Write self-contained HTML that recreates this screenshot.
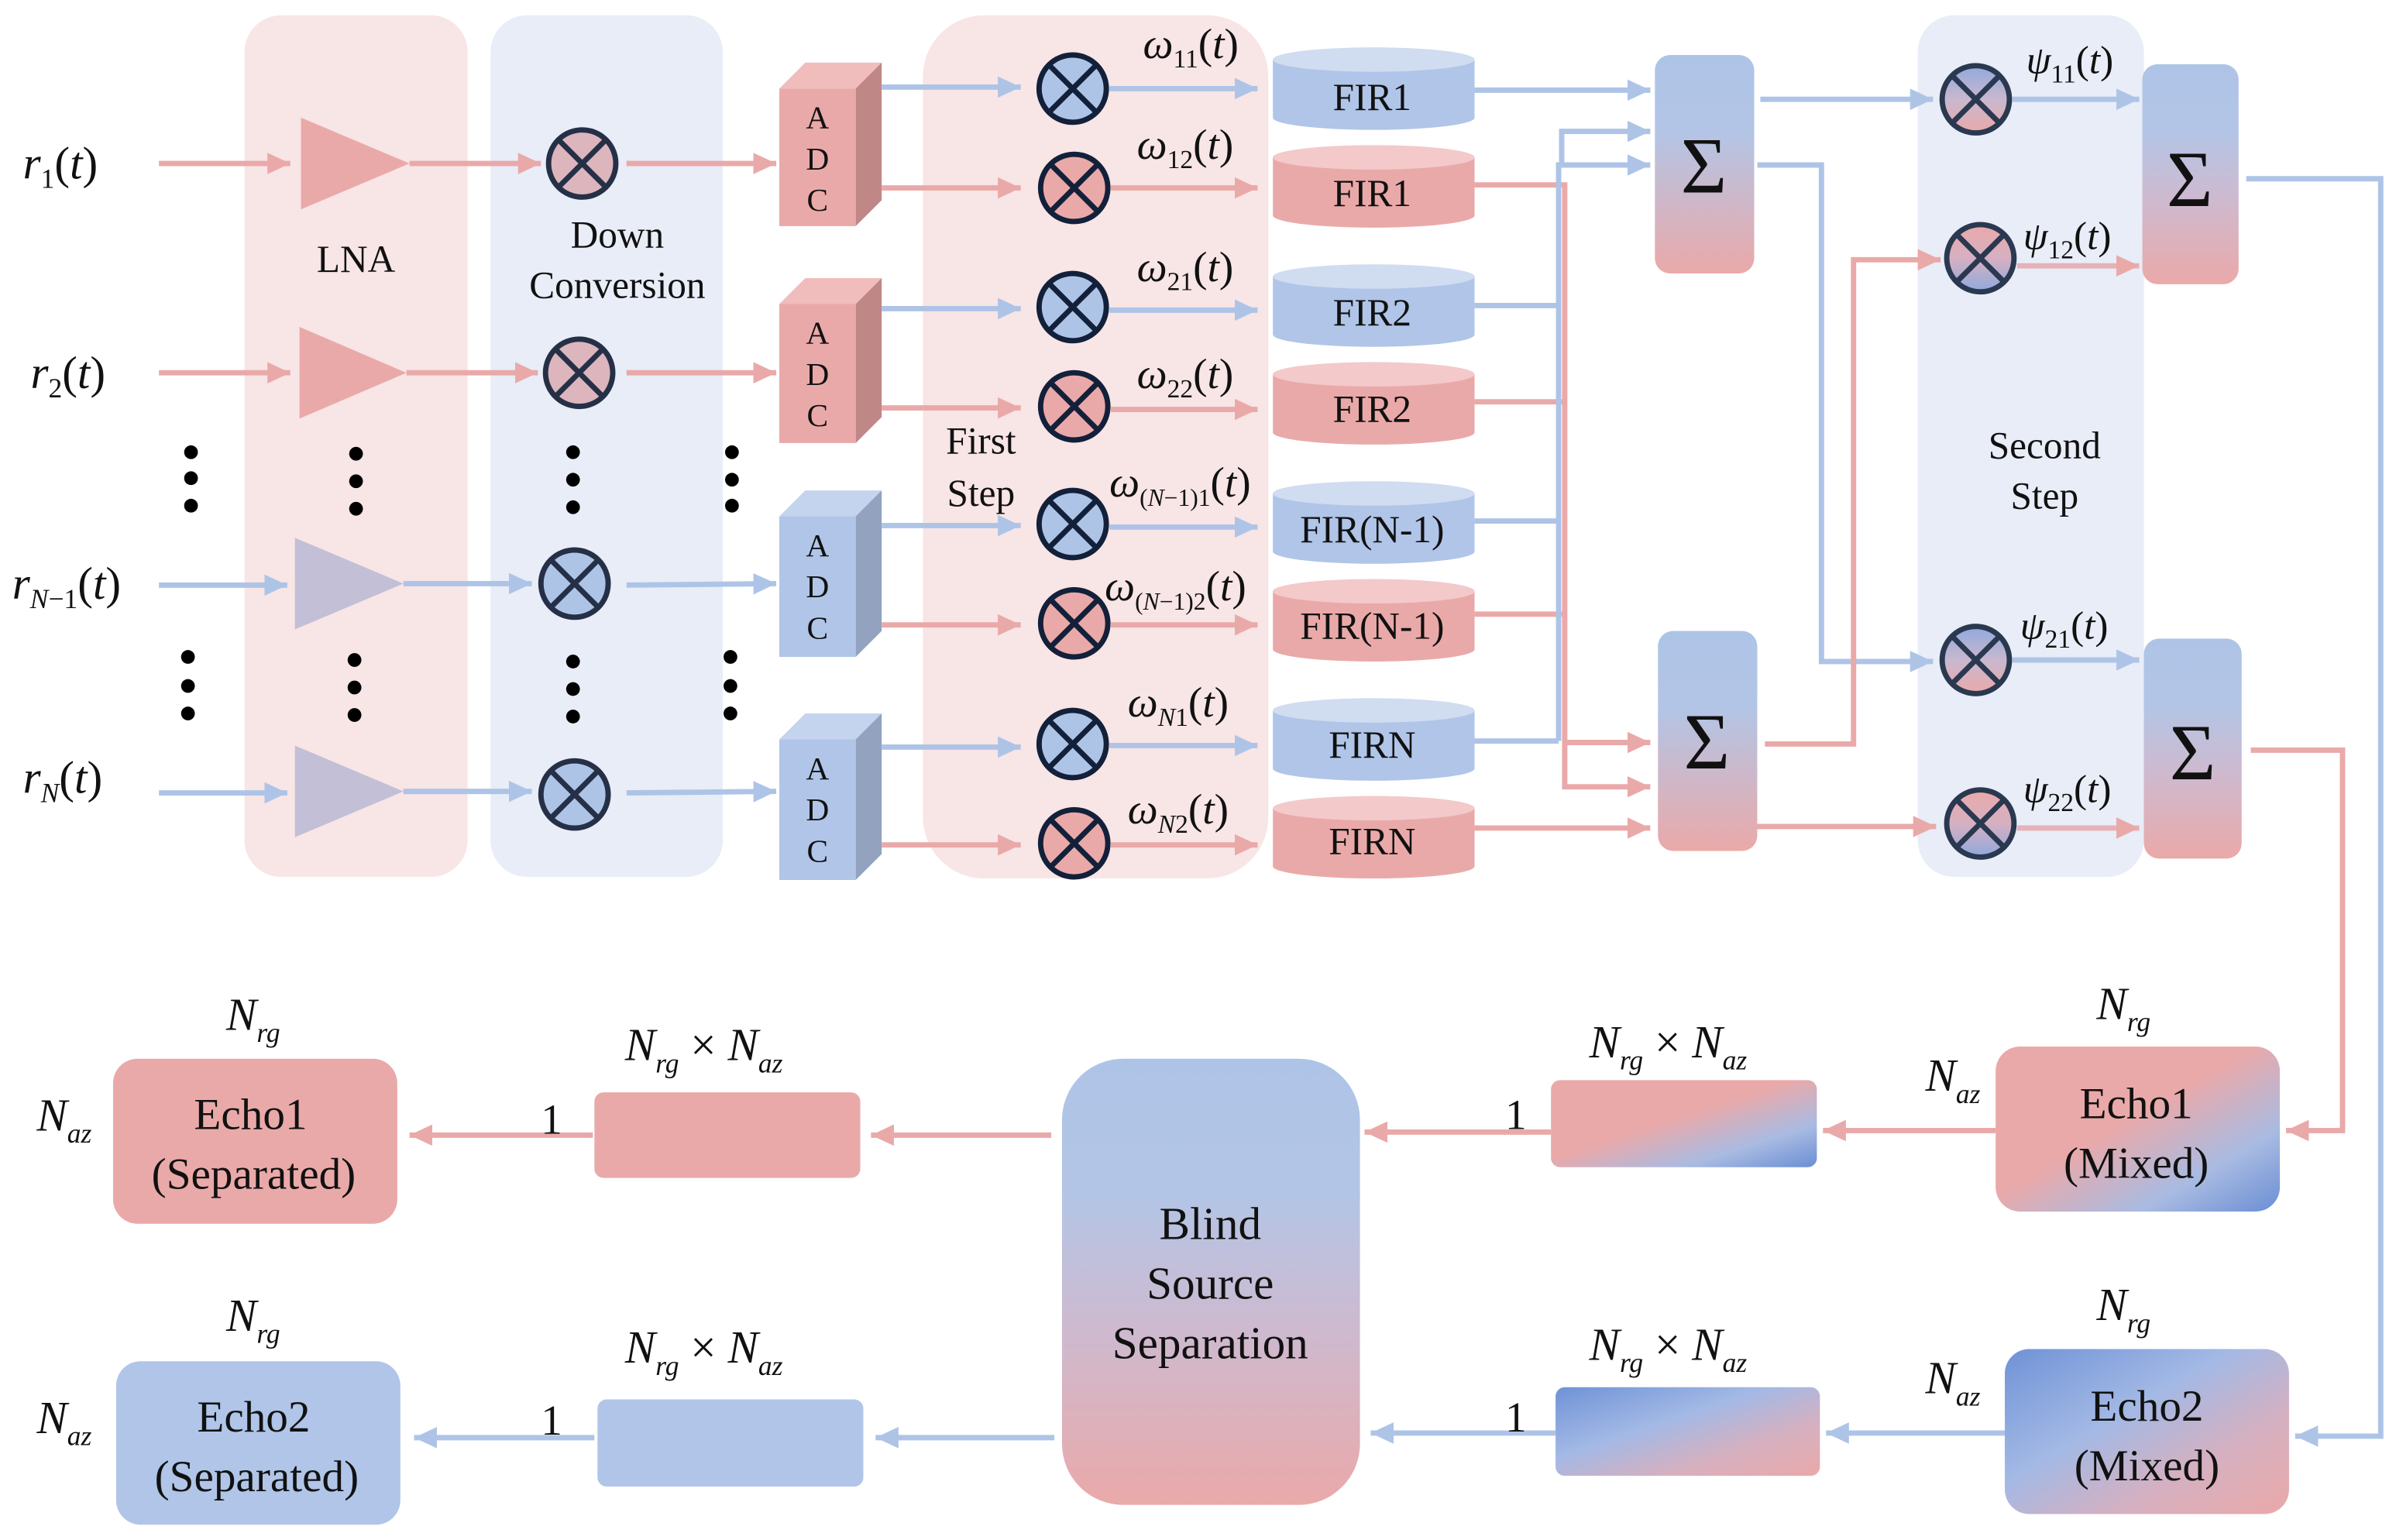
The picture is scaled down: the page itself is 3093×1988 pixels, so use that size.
<!DOCTYPE html>
<html><head><meta charset="utf-8"><style>
html,body{margin:0;padding:0;background:#fff;font-family:"Liberation Serif","DejaVu Serif",serif;}
svg{display:block;}
svg text{font-family:"Liberation Serif","DejaVu Serif",serif;fill:#111;}
.it{font-style:italic;}
</style></head><body>
<svg width="3093" height="1988" viewBox="0 0 1568 1008" preserveAspectRatio="none" xmlns="http://www.w3.org/2000/svg" font-family="Liberation Serif, DejaVu Serif, serif">
<defs>
<marker id="mb" markerUnits="userSpaceOnUse" markerWidth="16" markerHeight="14" refX="15" refY="7" orient="auto"><path d="M0,0 L15,7 L0,14 z" fill="#aec4e7"/></marker>
<marker id="mp" markerUnits="userSpaceOnUse" markerWidth="16" markerHeight="14" refX="15" refY="7" orient="auto"><path d="M0,0 L15,7 L0,14 z" fill="#eaa9a9"/></marker>
<linearGradient id="gBP" x1="0" y1="0" x2="0" y2="1"><stop offset="0" stop-color="#aec4e7"/><stop offset="0.35" stop-color="#b3c5e6"/><stop offset="1" stop-color="#eaa9a9"/></linearGradient>
<linearGradient id="gBP2" x1="0" y1="0" x2="0" y2="1"><stop offset="0" stop-color="#aec4e7"/><stop offset="0.3" stop-color="#b3c5e6"/><stop offset="0.6" stop-color="#cdbad0"/><stop offset="1" stop-color="#eaa9a9"/></linearGradient>
<linearGradient id="cBP" x1="0" y1="0" x2="0" y2="1"><stop offset="0" stop-color="#8fa9dd"/><stop offset="0.5" stop-color="#c9b8cf"/><stop offset="1" stop-color="#eaa9a9"/></linearGradient>
<linearGradient id="cPB" x1="0" y1="0" x2="0" y2="1"><stop offset="0" stop-color="#eaa9a9"/><stop offset="0.5" stop-color="#d6b0c2"/><stop offset="1" stop-color="#8fa9dd"/></linearGradient>
<linearGradient id="e1" x1="0" y1="0" x2="1" y2="1"><stop offset="0" stop-color="#eaa9a9"/><stop offset="0.45" stop-color="#eaa9a9"/><stop offset="0.75" stop-color="#a9bbe2"/><stop offset="1" stop-color="#6a8ed4"/></linearGradient>
<linearGradient id="e2" x1="0" y1="0" x2="1" y2="1"><stop offset="0" stop-color="#6f92d6"/><stop offset="0.4" stop-color="#a3b9e5"/><stop offset="0.7" stop-color="#d6b0c0"/><stop offset="1" stop-color="#eaa9a9"/></linearGradient>
</defs>

<rect x="160" y="10" width="146" height="564" rx="24" fill="#f8e5e6"/>
<rect x="321" y="10" width="152" height="564" rx="24" fill="#e8edf7"/>
<rect x="604" y="10" width="226" height="565" rx="40" fill="#f8e5e6"/>
<rect x="1255" y="10" width="148" height="564" rx="24" fill="#e8edf7"/>

<text class="it" x="15" y="117" font-size="30">r<tspan font-size="18" dy="6" font-style="normal">1</tspan><tspan dy="-6" font-style="normal">(</tspan>t<tspan font-style="normal">)</tspan></text>
<text class="it" x="20" y="254" font-size="30">r<tspan font-size="18" dy="6" font-style="normal">2</tspan><tspan dy="-6" font-style="normal">(</tspan>t<tspan font-style="normal">)</tspan></text>
<text class="it" x="8" y="392" font-size="30">r<tspan font-size="18" dy="6">N</tspan><tspan font-size="18" font-style="normal">−1</tspan><tspan dy="-6" font-style="normal">(</tspan>t<tspan font-style="normal">)</tspan></text>
<text class="it" x="15" y="519" font-size="30">r<tspan font-size="18" dy="6">N</tspan><tspan dy="-6" font-style="normal">(</tspan>t<tspan font-style="normal">)</tspan></text>

<g stroke-width="3.5" fill="none">
<line x1="104" y1="107" x2="190" y2="107" stroke="#eaa9a9" marker-end="url(#mp)"/>
<line x1="104" y1="244" x2="190" y2="244" stroke="#eaa9a9" marker-end="url(#mp)"/>
<line x1="104" y1="383" x2="188" y2="383" stroke="#aec4e7" marker-end="url(#mb)"/>
<line x1="104" y1="519" x2="188" y2="519" stroke="#aec4e7" marker-end="url(#mb)"/>
<line x1="268" y1="107" x2="354" y2="107" stroke="#eaa9a9" marker-end="url(#mp)"/>
<line x1="266" y1="244" x2="352" y2="244" stroke="#eaa9a9" marker-end="url(#mp)"/>
<line x1="264" y1="382" x2="348" y2="382" stroke="#aec4e7" marker-end="url(#mb)"/>
<line x1="264" y1="518" x2="348" y2="518" stroke="#aec4e7" marker-end="url(#mb)"/>
<line x1="410" y1="107" x2="508" y2="107" stroke="#eaa9a9" marker-end="url(#mp)"/>
<line x1="410" y1="244" x2="508" y2="244" stroke="#eaa9a9" marker-end="url(#mp)"/>
<line x1="410" y1="383" x2="508" y2="382" stroke="#aec4e7" marker-end="url(#mb)"/>
<line x1="410" y1="519" x2="508" y2="518" stroke="#aec4e7" marker-end="url(#mb)"/>
</g>

<polygon points="197,77 268,107 197,137" fill="#eaa9a9"/>
<polygon points="196,214 266,244 196,274" fill="#eaa9a9"/>
<polygon points="193,352 264,382 193,412" fill="#c3bfd7"/>
<polygon points="193,488 264,518 193,548" fill="#c3bfd7"/>
<text x="233" y="178" font-size="25" text-anchor="middle">LNA</text>
<text x="404" y="162" font-size="25" text-anchor="middle">Down</text>
<text x="404" y="195" font-size="25" text-anchor="middle">Conversion</text>

<g stroke="#253047" stroke-width="3.5">
<circle cx="381" cy="107" r="22" fill="#dcb5bd"/><path d="M365.5,91.5 L396.5,122.5 M396.5,91.5 L365.5,122.5"/>
<circle cx="379" cy="244" r="22" fill="#dcb5bd"/><path d="M363.5,228.5 L394.5,259.5 M394.5,228.5 L363.5,259.5"/>
<circle cx="376" cy="382" r="22" fill="#aec4e7"/><path d="M360.5,366.5 L391.5,397.5 M391.5,366.5 L360.5,397.5"/>
<circle cx="376" cy="520" r="22" fill="#aec4e7"/><path d="M360.5,504.5 L391.5,535.5 M391.5,504.5 L360.5,535.5"/>
</g>

<g fill="#000">
<circle cx="125" cy="296" r="4.5"/><circle cx="125" cy="313" r="4.5"/><circle cx="125" cy="331" r="4.5"/>
<circle cx="233" cy="297" r="4.5"/><circle cx="233" cy="315" r="4.5"/><circle cx="233" cy="333" r="4.5"/>
<circle cx="375" cy="296" r="4.5"/><circle cx="375" cy="314" r="4.5"/><circle cx="375" cy="332" r="4.5"/>
<circle cx="479" cy="296" r="4.5"/><circle cx="479" cy="314" r="4.5"/><circle cx="479" cy="331" r="4.5"/>
<circle cx="123" cy="430" r="4.5"/><circle cx="123" cy="449" r="4.5"/><circle cx="123" cy="467" r="4.5"/>
<circle cx="232" cy="432" r="4.5"/><circle cx="232" cy="450" r="4.5"/><circle cx="232" cy="468" r="4.5"/>
<circle cx="375" cy="433" r="4.5"/><circle cx="375" cy="451" r="4.5"/><circle cx="375" cy="469" r="4.5"/>
<circle cx="478" cy="430" r="4.5"/><circle cx="478" cy="449" r="4.5"/><circle cx="478" cy="467" r="4.5"/>
</g>

<g>
<polygon points="510,58 527,41 577,41 560,58" fill="#f0bcbc"/><polygon points="560,58 577,41 577,131 560,148" fill="#c08787"/><rect x="510" y="58" width="50" height="90" fill="#eaa9a9"/>
<polygon points="510,199 527,182 577,182 560,199" fill="#f0bcbc"/><polygon points="560,199 577,182 577,273 560,290" fill="#c08787"/><rect x="510" y="199" width="50" height="91" fill="#eaa9a9"/>
<polygon points="510,338 527,321 577,321 560,338" fill="#c4d3ee"/><polygon points="560,338 577,321 577,413 560,430" fill="#92a2bf"/><rect x="510" y="338" width="50" height="92" fill="#b0c5e8"/>
<polygon points="510,484 527,467 577,467 560,484" fill="#c4d3ee"/><polygon points="560,484 577,467 577,559 560,576" fill="#92a2bf"/><rect x="510" y="484" width="50" height="92" fill="#b0c5e8"/>
</g>
<g font-size="21" text-anchor="middle">
<text x="535" y="84">A</text><text x="535" y="111">D</text><text x="535" y="138">C</text>
<text x="535" y="225">A</text><text x="535" y="252">D</text><text x="535" y="279">C</text>
<text x="535" y="364">A</text><text x="535" y="391">D</text><text x="535" y="418">C</text>
<text x="535" y="510">A</text><text x="535" y="537">D</text><text x="535" y="564">C</text>
</g>

<g stroke-width="3.5" fill="none">
<line x1="577" y1="57" x2="668" y2="57" stroke="#aec4e7" marker-end="url(#mb)"/>
<line x1="577" y1="123" x2="668" y2="123" stroke="#eaa9a9" marker-end="url(#mp)"/>
<line x1="577" y1="202" x2="668" y2="202" stroke="#aec4e7" marker-end="url(#mb)"/>
<line x1="577" y1="267" x2="668" y2="267" stroke="#eaa9a9" marker-end="url(#mp)"/>
<line x1="577" y1="344" x2="668" y2="344" stroke="#aec4e7" marker-end="url(#mb)"/>
<line x1="577" y1="409" x2="668" y2="409" stroke="#eaa9a9" marker-end="url(#mp)"/>
<line x1="577" y1="489" x2="668" y2="489" stroke="#aec4e7" marker-end="url(#mb)"/>
<line x1="577" y1="553" x2="668" y2="553" stroke="#eaa9a9" marker-end="url(#mp)"/>
</g>
<text x="642" y="297" font-size="25" text-anchor="middle">First</text>
<text x="642" y="331" font-size="25" text-anchor="middle">Step</text>

<g stroke="#13203a" stroke-width="3.5">
<circle cx="702" cy="58" r="22" fill="#aec4e7"/><path d="M686.5,42.5 L717.5,73.5 M717.5,42.5 L686.5,73.5"/>
<circle cx="703" cy="123" r="22" fill="#eaa9a9"/><path d="M687.5,107.5 L718.5,138.5 M718.5,107.5 L687.5,138.5"/>
<circle cx="702" cy="201" r="22" fill="#aec4e7"/><path d="M686.5,185.5 L717.5,216.5 M717.5,185.5 L686.5,216.5"/>
<circle cx="703" cy="266" r="22" fill="#eaa9a9"/><path d="M687.5,250.5 L718.5,281.5 M718.5,250.5 L687.5,281.5"/>
<circle cx="702" cy="343" r="22" fill="#aec4e7"/><path d="M686.5,327.5 L717.5,358.5 M717.5,327.5 L686.5,358.5"/>
<circle cx="703" cy="408" r="22" fill="#eaa9a9"/><path d="M687.5,392.5 L718.5,423.5 M718.5,392.5 L687.5,423.5"/>
<circle cx="702" cy="487" r="22" fill="#aec4e7"/><path d="M686.5,471.5 L717.5,502.5 M717.5,471.5 L686.5,502.5"/>
<circle cx="703" cy="552" r="22" fill="#eaa9a9"/><path d="M687.5,536.5 L718.5,567.5 M718.5,536.5 L687.5,567.5"/>
</g>
<g stroke-width="3.5" fill="none">
<line x1="726" y1="58" x2="823" y2="58" stroke="#aec4e7" marker-end="url(#mb)"/>
<line x1="727" y1="123" x2="823" y2="123" stroke="#eaa9a9" marker-end="url(#mp)"/>
<line x1="726" y1="203" x2="823" y2="203" stroke="#aec4e7" marker-end="url(#mb)"/>
<line x1="727" y1="268" x2="823" y2="268" stroke="#eaa9a9" marker-end="url(#mp)"/>
<line x1="726" y1="345" x2="823" y2="345" stroke="#aec4e7" marker-end="url(#mb)"/>
<line x1="727" y1="409" x2="823" y2="409" stroke="#eaa9a9" marker-end="url(#mp)"/>
<line x1="726" y1="488" x2="823" y2="488" stroke="#aec4e7" marker-end="url(#mb)"/>
<line x1="727" y1="553" x2="823" y2="553" stroke="#eaa9a9" marker-end="url(#mp)"/>
</g>
<g font-size="28" class="it">
<text x="748" y="38" class="it">ω<tspan font-size="17" dy="6" font-style="normal">11</tspan><tspan dy="-6" font-style="normal">(</tspan>t<tspan font-style="normal">)</tspan></text>
<text x="744" y="104" class="it">ω<tspan font-size="17" dy="6" font-style="normal">12</tspan><tspan dy="-6" font-style="normal">(</tspan>t<tspan font-style="normal">)</tspan></text>
<text x="744" y="184" class="it">ω<tspan font-size="17" dy="6" font-style="normal">21</tspan><tspan dy="-6" font-style="normal">(</tspan>t<tspan font-style="normal">)</tspan></text>
<text x="744" y="254" class="it">ω<tspan font-size="17" dy="6" font-style="normal">22</tspan><tspan dy="-6" font-style="normal">(</tspan>t<tspan font-style="normal">)</tspan></text>
<text x="726" y="325" class="it">ω<tspan font-size="16" dy="6" font-style="normal">(</tspan><tspan font-size="16">N</tspan><tspan font-size="16" font-style="normal">−1)1</tspan><tspan dy="-6" font-style="normal">(</tspan>t<tspan font-style="normal">)</tspan></text>
<text x="723" y="393" class="it">ω<tspan font-size="16" dy="6" font-style="normal">(</tspan><tspan font-size="16">N</tspan><tspan font-size="16" font-style="normal">−1)2</tspan><tspan dy="-6" font-style="normal">(</tspan>t<tspan font-style="normal">)</tspan></text>
<text x="738" y="469" class="it">ω<tspan font-size="17" dy="6">N</tspan><tspan font-size="17" font-style="normal">1</tspan><tspan dy="-6" font-style="normal">(</tspan>t<tspan font-style="normal">)</tspan></text>
<text x="738" y="539" class="it">ω<tspan font-size="17" dy="6">N</tspan><tspan font-size="17" font-style="normal">2</tspan><tspan dy="-6" font-style="normal">(</tspan>t<tspan font-style="normal">)</tspan></text>
</g>

<g>
<rect x="833" y="39" width="132" height="38" fill="#b0c5e8"/><ellipse cx="899" cy="77" rx="66" ry="8" fill="#b0c5e8"/><ellipse cx="899" cy="39" rx="66" ry="8" fill="#d0dcf0"/>
<rect x="833" y="103" width="132" height="38" fill="#eaa9a9"/><ellipse cx="899" cy="141" rx="66" ry="8" fill="#eaa9a9"/><ellipse cx="899" cy="103" rx="66" ry="8" fill="#f3c9ca"/>
<rect x="833" y="181" width="132" height="38" fill="#b0c5e8"/><ellipse cx="899" cy="219" rx="66" ry="8" fill="#b0c5e8"/><ellipse cx="899" cy="181" rx="66" ry="8" fill="#d0dcf0"/>
<rect x="833" y="245" width="132" height="38" fill="#eaa9a9"/><ellipse cx="899" cy="283" rx="66" ry="8" fill="#eaa9a9"/><ellipse cx="899" cy="245" rx="66" ry="8" fill="#f3c9ca"/>
<rect x="833" y="323" width="132" height="38" fill="#b0c5e8"/><ellipse cx="899" cy="361" rx="66" ry="8" fill="#b0c5e8"/><ellipse cx="899" cy="323" rx="66" ry="8" fill="#d0dcf0"/>
<rect x="833" y="387" width="132" height="38" fill="#eaa9a9"/><ellipse cx="899" cy="425" rx="66" ry="8" fill="#eaa9a9"/><ellipse cx="899" cy="387" rx="66" ry="8" fill="#f3c9ca"/>
<rect x="833" y="465" width="132" height="38" fill="#b0c5e8"/><ellipse cx="899" cy="503" rx="66" ry="8" fill="#b0c5e8"/><ellipse cx="899" cy="465" rx="66" ry="8" fill="#d0dcf0"/>
<rect x="833" y="529" width="132" height="38" fill="#eaa9a9"/><ellipse cx="899" cy="567" rx="66" ry="8" fill="#eaa9a9"/><ellipse cx="899" cy="529" rx="66" ry="8" fill="#f3c9ca"/>
</g>
<g font-size="25" text-anchor="middle">
<text x="898" y="72">FIR1</text><text x="898" y="135">FIR1</text>
<text x="898" y="213">FIR2</text><text x="898" y="276">FIR2</text>
<text x="898" y="355">FIR(N-1)</text><text x="898" y="418">FIR(N-1)</text>
<text x="898" y="496">FIRN</text><text x="898" y="559">FIRN</text>
</g>

<g stroke-width="3.5" fill="none">
<line x1="965" y1="59" x2="1080" y2="59" stroke="#aec4e7" marker-end="url(#mb)"/>
<polyline points="965,200 1020,200" stroke="#aec4e7"/>
<polyline points="965,341 1020,341" stroke="#aec4e7"/>
<polyline points="965,485 1020,485" stroke="#aec4e7"/>
<polyline points="965,121 1024,121 1024,515 1080,515" stroke="#eaa9a9" marker-end="url(#mp)"/>
<polyline points="965,263 1024,263" stroke="#eaa9a9"/>
<polyline points="965,402 1024,402" stroke="#eaa9a9"/>
<line x1="1024" y1="486" x2="1080" y2="486" stroke="#eaa9a9" marker-end="url(#mp)"/>
<line x1="965" y1="542" x2="1080" y2="542" stroke="#eaa9a9" marker-end="url(#mp)"/>
<polyline points="1020,485 1020,108 1080,108" stroke="#aec4e7" marker-end="url(#mb)"/>
<polyline points="1022,108 1022,86 1080,86" stroke="#aec4e7" marker-end="url(#mb)"/>
</g>

<rect x="1083" y="36" width="65" height="143" rx="10" fill="url(#gBP)"/>
<rect x="1085" y="413" width="65" height="144" rx="10" fill="url(#gBP)"/>
<text x="1115" y="126" font-size="52" text-anchor="middle">Σ</text>
<text x="1117" y="503" font-size="52" text-anchor="middle">Σ</text>

<g stroke-width="3.5" fill="none">
<line x1="1152" y1="65" x2="1265" y2="65" stroke="#aec4e7" marker-end="url(#mb)"/>
<polyline points="1150,108 1192,108 1192,433 1265,433" stroke="#aec4e7" marker-end="url(#mb)"/>
<polyline points="1155,487 1213,487 1213,170 1270,170" stroke="#eaa9a9" marker-end="url(#mp)"/>
<line x1="1150" y1="541" x2="1267" y2="541" stroke="#eaa9a9" marker-end="url(#mp)"/>
</g>

<g stroke="#2a3850" stroke-width="3.5">
<circle cx="1293" cy="65" r="22" fill="url(#cBP)"/><path d="M1277.5,49.5 L1308.5,80.5 M1308.5,49.5 L1277.5,80.5"/>
<circle cx="1296" cy="169" r="22" fill="url(#cPB)"/><path d="M1280.5,153.5 L1311.5,184.5 M1311.5,153.5 L1280.5,184.5"/>
<circle cx="1293" cy="432" r="22" fill="url(#cBP)"/><path d="M1277.5,416.5 L1308.5,447.5 M1308.5,416.5 L1277.5,447.5"/>
<circle cx="1296" cy="539" r="22" fill="url(#cPB)"/><path d="M1280.5,523.5 L1311.5,554.5 M1311.5,523.5 L1280.5,554.5"/>
</g>
<text x="1338" y="300" font-size="25" text-anchor="middle">Second</text>
<text x="1338" y="333" font-size="25" text-anchor="middle">Step</text>
<g stroke-width="3.5" fill="none">
<line x1="1317" y1="65" x2="1400" y2="65" stroke="#aec4e7" marker-end="url(#mb)"/>
<line x1="1320" y1="174" x2="1400" y2="174" stroke="#e6b1b7" marker-end="url(#mp)"/>
<line x1="1317" y1="432" x2="1400" y2="432" stroke="#aec4e7" marker-end="url(#mb)"/>
<line x1="1320" y1="542" x2="1400" y2="542" stroke="#e6b1b7" marker-end="url(#mp)"/>
</g>
<g font-size="26">
<text x="1326" y="48" class="it">ψ<tspan font-size="17" dy="6" font-style="normal">11</tspan><tspan dy="-6" font-style="normal">(</tspan>t<tspan font-style="normal">)</tspan></text>
<text x="1324" y="163" class="it">ψ<tspan font-size="17" dy="6" font-style="normal">12</tspan><tspan dy="-6" font-style="normal">(</tspan>t<tspan font-style="normal">)</tspan></text>
<text x="1322" y="418" class="it">ψ<tspan font-size="17" dy="6" font-style="normal">21</tspan><tspan dy="-6" font-style="normal">(</tspan>t<tspan font-style="normal">)</tspan></text>
<text x="1324" y="525" class="it">ψ<tspan font-size="17" dy="6" font-style="normal">22</tspan><tspan dy="-6" font-style="normal">(</tspan>t<tspan font-style="normal">)</tspan></text>
</g>

<rect x="1402" y="42" width="63" height="144" rx="10" fill="url(#gBP2)"/>
<rect x="1403" y="418" width="64" height="144" rx="10" fill="url(#gBP2)"/>
<text x="1433" y="135" font-size="52" text-anchor="middle">Σ</text>
<text x="1435" y="510" font-size="52" text-anchor="middle">Σ</text>

<g stroke-width="3.5" fill="none">
<polyline points="1470,117 1558,117 1558,940 1502,940" stroke="#aec4e7" marker-end="url(#mb)"/>
<polyline points="1473,491 1533,491 1533,740 1496,740" stroke="#eaa9a9" marker-end="url(#mp)"/>
</g>

<rect x="1306" y="685" width="186" height="108" rx="16" fill="url(#e1)"/>
<rect x="1312" y="883" width="186" height="108" rx="16" fill="url(#e2)"/>
<text x="1398" y="732" font-size="29" text-anchor="middle">Echo1</text>
<text x="1398" y="771" font-size="29" text-anchor="middle">(Mixed)</text>
<text x="1405" y="930" font-size="29" text-anchor="middle">Echo2</text>
<text x="1405" y="969" font-size="29" text-anchor="middle">(Mixed)</text>

<rect x="1015" y="707" width="174" height="57" rx="6" fill="url(#e1)"/>
<rect x="1018" y="908" width="173" height="58" rx="6" fill="url(#e2)"/>

<rect x="695" y="693" width="195" height="292" rx="40" fill="url(#gBP2)"/>
<text x="792" y="811" font-size="30" text-anchor="middle">Blind</text>
<text x="792" y="850" font-size="30" text-anchor="middle">Source</text>
<text x="792" y="889" font-size="30" text-anchor="middle">Separation</text>

<rect x="389" y="715" width="174" height="56" rx="6" fill="#eaa9a9"/>
<rect x="391" y="916" width="174" height="57" rx="6" fill="#b0c5e8"/>
<rect x="74" y="693" width="186" height="108" rx="16" fill="#eaa9a9"/>
<rect x="76" y="891" width="186" height="107" rx="16" fill="#b0c5e8"/>
<text x="164" y="739" font-size="29" text-anchor="middle">Echo1</text>
<text x="166" y="778" font-size="29" text-anchor="middle">(Separated)</text>
<text x="166" y="937" font-size="29" text-anchor="middle">Echo2</text>
<text x="168" y="976" font-size="29" text-anchor="middle">(Separated)</text>

<g stroke-width="3.5" fill="none">
<line x1="1306" y1="740" x2="1193" y2="740" stroke="#eaa9a9" marker-end="url(#mp)"/>
<line x1="1015" y1="741" x2="893" y2="741" stroke="#eaa9a9" marker-end="url(#mp)"/>
<line x1="688" y1="743" x2="570" y2="743" stroke="#eaa9a9" marker-end="url(#mp)"/>
<line x1="388" y1="743" x2="268" y2="743" stroke="#eaa9a9" marker-end="url(#mp)"/>
<line x1="1312" y1="938" x2="1195" y2="938" stroke="#aec4e7" marker-end="url(#mb)"/>
<line x1="1018" y1="938" x2="897" y2="938" stroke="#aec4e7" marker-end="url(#mb)"/>
<line x1="690" y1="941" x2="573" y2="941" stroke="#aec4e7" marker-end="url(#mb)"/>
<line x1="389" y1="941" x2="271" y2="941" stroke="#aec4e7" marker-end="url(#mb)"/>
</g>

<g font-size="28">
<text x="992" y="739" text-anchor="middle">1</text>
<text x="361" y="742" text-anchor="middle">1</text>
<text x="992" y="937" text-anchor="middle">1</text>
<text x="361" y="939" text-anchor="middle">1</text>
</g>

<g font-size="30" class="it">
<text x="1372" y="667" class="it">N<tspan font-size="18" dy="8">rg</tspan></text>
<text x="1372" y="864" class="it">N<tspan font-size="18" dy="8">rg</tspan></text>
<text x="148" y="674" class="it">N<tspan font-size="18" dy="8">rg</tspan></text>
<text x="148" y="871" class="it">N<tspan font-size="18" dy="8">rg</tspan></text>
<text x="1260" y="714" class="it">N<tspan font-size="18" dy="8">az</tspan></text>
<text x="1260" y="912" class="it">N<tspan font-size="18" dy="8">az</tspan></text>
<text x="24" y="740" class="it">N<tspan font-size="18" dy="8">az</tspan></text>
<text x="24" y="938" class="it">N<tspan font-size="18" dy="8">az</tspan></text>
<text x="1040" y="692" class="it">N<tspan font-size="18" dy="8">rg</tspan><tspan dy="-8" font-style="normal"> × </tspan>N<tspan font-size="18" dy="8">az</tspan></text>
<text x="1040" y="890" class="it">N<tspan font-size="18" dy="8">rg</tspan><tspan dy="-8" font-style="normal"> × </tspan>N<tspan font-size="18" dy="8">az</tspan></text>
<text x="409" y="694" class="it">N<tspan font-size="18" dy="8">rg</tspan><tspan dy="-8" font-style="normal"> × </tspan>N<tspan font-size="18" dy="8">az</tspan></text>
<text x="409" y="892" class="it">N<tspan font-size="18" dy="8">rg</tspan><tspan dy="-8" font-style="normal"> × </tspan>N<tspan font-size="18" dy="8">az</tspan></text>
</g>
</svg>
</body></html>
